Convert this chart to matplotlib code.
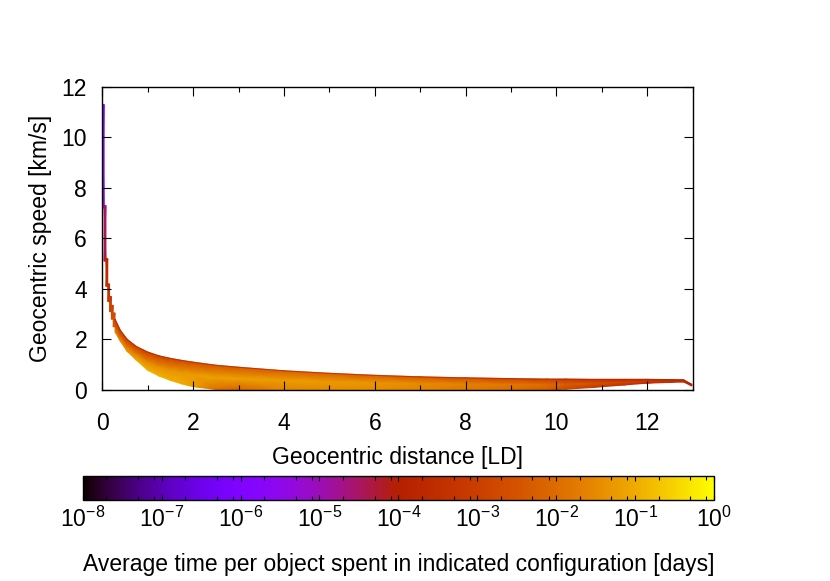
import numpy as np
import matplotlib
matplotlib.use("Agg")
import matplotlib.pyplot as plt
from matplotlib.colors import ListedColormap, LogNorm
from matplotlib.cm import ScalarMappable
from matplotlib.ticker import MultipleLocator, FixedLocator

plt.rcParams["font.family"] = ["Liberation Sans", "DejaVu Sans"]
plt.rcParams["mathtext.default"] = "regular"
plt.rcParams["font.size"] = 16.5

# --- data (colour values are log10 of time in days) ---

# narrow spike close to the Earth, 0.04 LD distance bins
spike_left = [0.00, 0.04, 0.08, 0.12, 0.16, 0.20, 0.24]
spike_top = [11.3, 7.3, 5.2, 4.2, 3.7, 3.35, 3.05]
spike_bot = [7.2, 5.1, 4.1, 3.5, 3.1, 2.8, 2.5]
spike_c_top = [-6.0, -4.6, -3.8, -3.5, -3.2, -3.0, -2.8]
spike_c_bot = [-5.2, -4.3, -3.4, -3.0, -2.7, -2.5, -2.3]
spike_width = 0.04

# main band
band_d = [0.28, 0.4, 0.55, 0.75, 1.0, 1.25, 1.5, 1.75, 2.0, 2.5, 3.0, 4.0, 5.0,
          6.0, 7.0, 8.0, 9.0, 9.8, 10.2, 10.8, 11.5, 12.0, 12.5, 12.8, 12.98]
band_top = [2.8, 2.35, 2.0, 1.72, 1.5, 1.35, 1.25, 1.17, 1.1, 0.98, 0.9, 0.76, 0.66,
            0.58, 0.52, 0.48, 0.45, 0.43, 0.43, 0.42, 0.42, 0.42, 0.41, 0.40, 0.22]
band_bot = [2.3, 1.92, 1.52, 1.18, 0.78, 0.55, 0.38, 0.24, 0.13, 0.02, 0.0, 0.0, 0.0,
            0.0, 0.0, 0.0, 0.0, 0.0, 0.03, 0.10, 0.20, 0.27, 0.30, 0.32, 0.16]
band_c_top = [-3.2, -3.2, -3.1, -3.0, -3.0, -2.9, -2.8, -2.7, -2.6, -2.5, -2.4, -2.2, -2.2,
              -2.3, -2.4, -2.6, -2.8, -3.0, -3.2, -3.4, -3.6, -3.7, -3.8, -3.8, -4.0]
band_c_mid = [-2.4, -2.2, -2.0, -1.8, -1.6, -1.5, -1.4, -1.3, -1.2, -1.15, -1.15, -1.2, -1.25,
              -1.3, -1.45, -1.6, -1.8, -2.0, -2.2, -2.5, -2.8, -3.0, -3.2, -3.4, -3.6]
band_c_bot = [-1.6, -1.4, -1.2, -1.0, -0.9, -0.9, -0.95, -1.0, -1.2, -2.0, -2.2, -1.6, -1.5,
              -1.5, -1.6, -1.8, -2.0, -2.3, -2.8, -3.2, -3.5, -3.6, -3.6, -3.7, -3.8]

cb_decades = list(range(-8, 1))

# gnuplot default palette (rgbformulae 7,5,15)
s = np.linspace(0, 1, 256)
gp = ListedColormap(np.column_stack([np.sqrt(s), s ** 3,
                                     np.clip(np.sin(2 * np.pi * s), 0, 1)]))
vmin, vmax = -8, 0

W, H = 830, 581
fig = plt.figure(figsize=(W / 100, H / 100), dpi=100)
ax = fig.add_axes([102.3 / W, (H - 390) / H, 590.4 / W, 303.3 / H])

for l, t, b, ct, cbot in zip(spike_left, spike_top, spike_bot, spike_c_top, spike_c_bot):
    X = np.array([[l, l + spike_width], [l, l + spike_width]])
    Y = np.array([[b, b], [t, t]])
    C = np.array([[cbot, cbot], [ct, ct]])
    ax.pcolormesh(X, Y, C, shading="gouraud", cmap=gp, vmin=vmin, vmax=vmax)

d = np.array(band_d)
top = np.array(band_top)
bot = np.array(band_bot)
X = np.vstack([d, d, d])
Y = np.vstack([bot, (bot + top) / 2, top])
C = np.vstack([band_c_bot, band_c_mid, band_c_top])
ax.pcolormesh(X, Y, C, shading="gouraud", cmap=gp, vmin=vmin, vmax=vmax)
ax.plot(d, top, color=gp((-3.8 - vmin) / (vmax - vmin)), lw=0.8, alpha=0.7)

ax.set_xlim(0, 13)
ax.set_ylim(0, 12)
ax.set_xticks(range(0, 13, 2))
ax.xaxis.set_minor_locator(MultipleLocator(1))
ax.set_yticks(range(0, 13, 2))
ax.tick_params(which="both", direction="in", top=True, right=True, width=0.8)
ax.tick_params(which="major", length=6.5)
ax.tick_params(which="minor", length=3.3)
ax.tick_params(axis="x", pad=16)
ax.tick_params(axis="y", pad=11)
for sp in ax.spines.values():
    sp.set_linewidth(1.0)

ax.set_xlabel("Geocentric distance [LD]")
ax.xaxis.set_label_coords(0.5, -0.185)
ax.set_ylabel("Geocentric speed [km/s]")
ax.yaxis.set_label_coords(-0.086, 0.5)

cax = fig.add_axes([82.7 / W, (H - 499.7) / H, 631.3 / W, 23.7 / H])
sm = ScalarMappable(norm=LogNorm(10.0 ** vmin, 10.0 ** vmax), cmap=gp)
cb = fig.colorbar(sm, cax=cax, orientation="horizontal")
cb.set_ticks([10.0 ** k for k in cb_decades])
cb.set_ticklabels([f"$10^{{{k}}}$" for k in cb_decades])
cb.ax.xaxis.set_minor_locator(FixedLocator(
    [m * 10.0 ** k for k in cb_decades[:-1] for m in (2, 5, 8)]))
cb.ax.tick_params(which="both", direction="in", top=True, bottom=True, width=0.8)
cb.ax.tick_params(which="major", length=3.5, pad=5)
cb.ax.tick_params(which="minor", length=3.0)
cb.outline.set_linewidth(1.0)
cb.set_label("Average time per object spent in indicated configuration [days]")
cb.ax.xaxis.set_label_coords(0.5, -2.25)

fig.savefig("out.png", dpi=100)
